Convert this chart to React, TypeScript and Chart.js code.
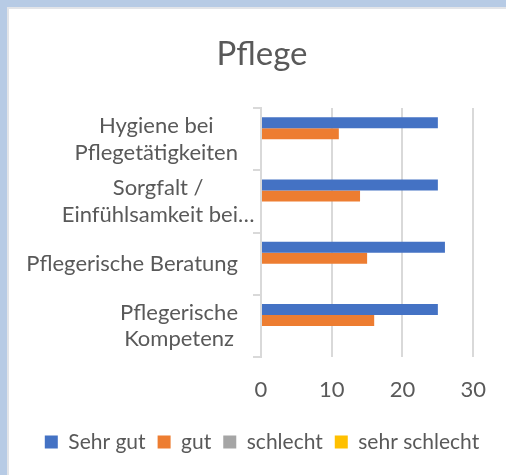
import React, { useEffect, useRef } from "react";
import { Chart, registerables } from "chart.js";

Chart.register(...registerables);

// ---- data ----
const categories: string[][] = [
  ["Hygiene bei", "Pflegetätigkeiten"],
  ["Sorgfalt /", "Einfühlsamkeit bei…"],
  ["Pflegerische Beratung"],
  ["Pflegerische", "Kompetenz"],
];
const seriesNames = ["Sehr gut", "gut", "schlecht", "sehr schlecht"];
const sehrGut = [25, 25, 26, 25];
const gut = [11, 14, 15, 16];
const schlecht = [0, 0, 0, 0];
const sehrSchlecht = [0, 0, 0, 0];
const xMin = 0;
const xMax = 30;
const xStep = 10;

// ---- styles ----
const FONT = "Lato, 'Open Sans', sans-serif";
const TEXT = "#595959";
const GRID = "#d9d9d9";
const COLORS = ["#4472c4", "#ed7d31", "#a5a5a5", "#ffc000"];
const FS = 22;
const LEG_FS = 21;
const LINE_H = 26.7;

const yLabelPlugin = {
  id: "yLabelPlugin",
  afterDraw(chart: any) {
    const scale = chart.scales.y;
    const ctx = chart.ctx as CanvasRenderingContext2D;
    ctx.save();
    ctx.font = `${FS}px ${FONT}`;
    ctx.fillStyle = TEXT;
    ctx.textBaseline = "middle";
    ctx.textAlign = "center";
    const right = scale.right - 23;
    (chart.data.labels as any[]).forEach((lab, i) => {
      const lines: string[] = Array.isArray(lab) ? lab : [lab];
      const widths = lines.map((l) => ctx.measureText(l).width);
      const w = Math.max(...widths);
      const wi = widths.indexOf(w);
      const overflow = lines[wi].endsWith("…") ? ctx.measureText("…").width : 0;
      const cx = right + overflow - w / 2;
      const cy = scale.getPixelForValue(i);
      lines.forEach((l, j) => {
        ctx.fillText(l, cx, cy + (j - (lines.length - 1) / 2) * LINE_H);
      });
    });
    ctx.restore();
  },
};

export default function App() {
  const ref = useRef<HTMLCanvasElement | null>(null);

  useEffect(() => {
    if (!ref.current) return;
    const values = [sehrGut, gut, schlecht, sehrSchlecht];
    const chart = new Chart(ref.current, {
      type: "bar",
      data: {
        labels: categories,
        datasets: seriesNames.map((name, k) => ({
          label: name,
          data: values[k],
          backgroundColor: COLORS[k],
          borderWidth: 0,
          categoryPercentage: 0.7,
          barPercentage: 1,
          yAxisID: "y",
        })),
      },
      options: {
        indexAxis: "y",
        responsive: false,
        animation: false,
        devicePixelRatio: 1,
        layout: { padding: { left: 18, right: 0, top: 9, bottom: 12.5 } },
        plugins: {
          title: {
            display: true,
            text: "Pflege",
            color: TEXT,
            font: { family: FONT, size: 33, weight: "normal" },
            padding: { top: 26, bottom: 33.4 },
          },
          legend: {
            position: "bottom",
            labels: {
              boxWidth: 13,
              boxHeight: 13,
              padding: 12,
              color: TEXT,
              font: { family: FONT, size: LEG_FS },
            },
          },
          tooltip: { enabled: false },
        },
        scales: {
          x: {
            type: "linear",
            min: xMin,
            max: xMax,
            ticks: {
              stepSize: xStep,
              color: TEXT,
              padding: 20,
              font: { family: FONT, size: FS },
            },
            grid: { color: GRID, lineWidth: 2, drawTicks: false },
            border: { display: false },
            afterFit: (s: any) => {
              s.height = 62.5;
            },
          },
          y: {
            type: "category",
            position: "left",
            offset: true,
            ticks: { display: false },
            grid: {
              offset: true,
              drawOnChartArea: false,
              drawTicks: true,
              tickLength: 8,
              color: GRID,
              lineWidth: 2,
            },
            border: { display: true, color: GRID, width: 2 },
            afterFit: (s: any) => {
              s.width = 243;
            },
          },
          y2: {
            type: "linear",
            position: "right",
            axis: "y",
            grid: { display: false },
            ticks: { display: false },
            border: { display: false },
            afterFit: (s: any) => {
              s.width = 32;
            },
          },
        },
      } as any,
      plugins: [yLabelPlugin],
    });
    return () => chart.destroy();
  }, []);

  return (
    <div
      style={{
        position: "fixed",
        left: 0,
        top: 0,
        width: 506,
        height: 475,
        background: "#b7cbe5",
        overflow: "hidden",
      }}
    >
      <div style={{ position: "absolute", left: 7, top: 7, right: 0, bottom: 0, background: "#e2e4e8" }} />
      <div style={{ position: "absolute", left: 9, top: 9, right: 0, bottom: 0, background: "#ffffff" }} />
      <canvas
        ref={ref}
        width={506}
        height={475}
        style={{ position: "absolute", left: 0, top: 0, width: 506, height: 475 }}
      />
    </div>
  );
}
